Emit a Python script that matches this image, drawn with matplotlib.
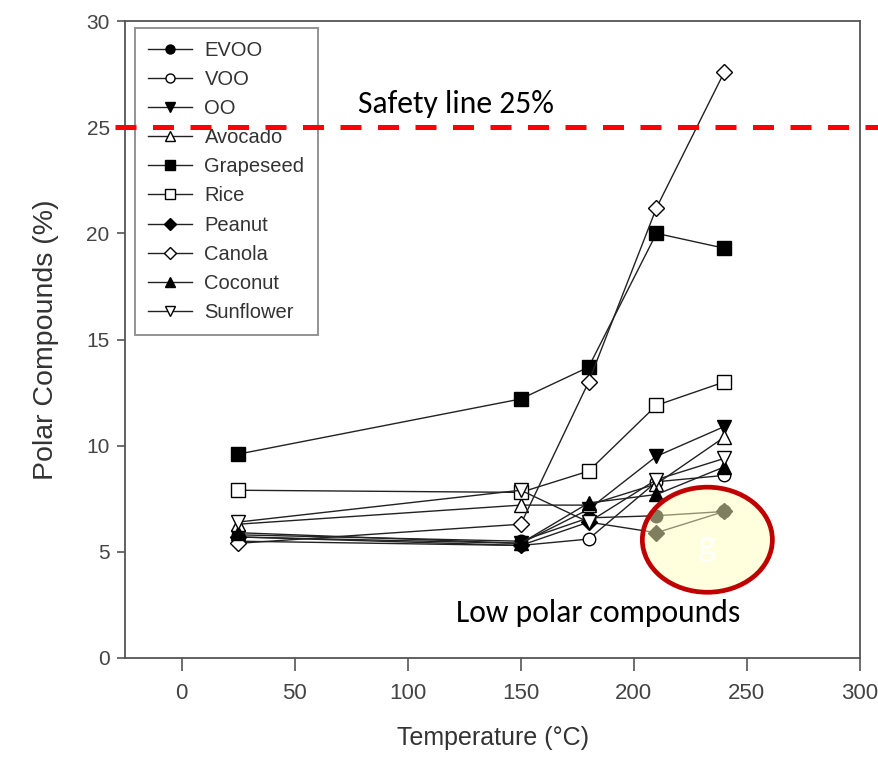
import matplotlib
matplotlib.use("Agg")
import matplotlib.pyplot as plt
from matplotlib.patches import Ellipse
from matplotlib.transforms import blended_transform_factory

# Heating temperatures (°C)
temperatures = [25, 150, 180, 210, 240]

# Polar compounds (%) per oil at each temperature
evoo = [5.8, 5.5, 6.6, 6.7, 6.9]
voo = [5.5, 5.3, 5.6, 8.3, 8.6]
oo = [5.7, 5.4, 7.0, 9.5, 10.9]
avocado = [6.3, 7.2, 7.2, 8.2, 10.4]
grapeseed = [9.6, 12.2, 13.7, 20.0, 19.3]
rice = [7.9, 7.8, 8.8, 11.9, 13.0]
peanut = [5.7, 5.3, 6.4, 5.9, 6.9]
canola = [5.4, 6.3, 13.0, 21.2, 27.6]
coconut = [5.9, 5.4, 7.3, 7.7, 9.0]
sunflower = [6.4, 7.9, 6.4, 8.4, 9.4]

oil_names = ["EVOO", "VOO", "OO", "Avocado", "Grapeseed",
             "Rice", "Peanut", "Canola", "Coconut", "Sunflower"]
oil_values = [evoo, voo, oo, avocado, grapeseed,
              rice, peanut, canola, coconut, sunflower]

SAFETY_LIMIT = 25
x_ticks = [0, 50, 100, 150, 200, 250, 300]
y_ticks = [0, 5, 10, 15, 20, 25, 30]

# marker shape and fill for each oil
styles = [("o", "black"), ("o", "white"), ("v", "black"), ("^", "white"),
          ("s", "black"), ("s", "white"), ("D", "black"), ("D", "white"),
          ("^", "black"), ("v", "white")]
sizes = {"o": 9, "v": 10, "^": 10, "s": 9.5, "D": 8}

fig = plt.figure(figsize=(8.79, 7.65), dpi=100)
ax = fig.add_axes([0.1422, 0.1399, 0.8362, 0.8326])

for name, vals, (mk, fc) in zip(oil_names, oil_values, styles):
    ax.plot(temperatures, vals, color="#222222", linewidth=1.0,
            marker=mk, markersize=sizes[mk], markerfacecolor=fc,
            markeredgecolor="black", markeredgewidth=1.0, label=name,
            zorder=3)

ax.set_xlim(-25, 300)
ax.set_ylim(0, 30)
ax.set_xticks(x_ticks)
ax.set_yticks(y_ticks)

regular = ["Liberation Sans", "DejaVu Sans"]

for lbl in ax.get_xticklabels():
    lbl.set_family(regular)
    lbl.set_fontsize(16)
    lbl.set_color("#444444")
for lbl in ax.get_yticklabels():
    lbl.set_family(regular)
    lbl.set_fontsize(15)
    lbl.set_color("#444444")

ax.tick_params(axis="x", direction="out", length=9, width=1.2,
               color="#555555", pad=9)
ax.tick_params(axis="y", direction="out", length=6, width=1.2,
               color="#555555", pad=5)
for sp in ax.spines.values():
    sp.set_color("#555555")
    sp.set_linewidth(1.3)

ax.set_xlabel("Temperature (°C)", family=regular, fontsize=18,
              color="#333333", labelpad=16)
ax.set_ylabel("Polar Compounds (%)", family=regular, fontsize=20.5,
              color="#333333", labelpad=20)

leg = ax.legend(loc="upper left", bbox_to_anchor=(0.0136, 0.989),
                borderaxespad=0, frameon=True, fancybox=False,
                handlelength=2.2, handletextpad=0.6, labelspacing=0.5,
                borderpad=0.65, markerscale=0.72,
                prop={"family": regular, "size": 14.5})
leg.get_frame().set_edgecolor("#777777")
leg.get_frame().set_linewidth(1.4)
for t in leg.get_texts():
    t.set_color("#333333")
leg.set_zorder(2)

# safety threshold spanning the full width
trans = blended_transform_factory(ax.transAxes, ax.transData)
ax.plot([-0.0136, 1.03], [SAFETY_LIMIT, SAFETY_LIMIT], transform=trans,
        color="#FF0000", linewidth=3.6, linestyle=(0, (4.2, 3.3)),
        clip_on=False, zorder=5)

annot_font = ["Carlito", "Lato", "DejaVu Sans"]
ax.text(78, 26.1, "Safety line 25%", family=annot_font, fontsize=22.8,
        ha="left", va="center", color="black", zorder=6)

# highlight of the lowest values
ell = Ellipse((232.5, 5.57), width=57.5, height=4.95,
              facecolor=(1.0, 1.0, 0.75, 0.5), edgecolor="#C00000",
              linewidth=3.4, zorder=4)
ax.add_patch(ell)
ax.text(232.5, 5.3, "g", family=annot_font, fontsize=28, color="white",
        ha="center", va="center", zorder=6)
ax.text(121.5, 2.1, "Low polar compounds", family=annot_font, fontsize=22.8,
        ha="left", va="center", color="black", zorder=6)

fig.savefig("out.png", dpi=100, facecolor="white")
